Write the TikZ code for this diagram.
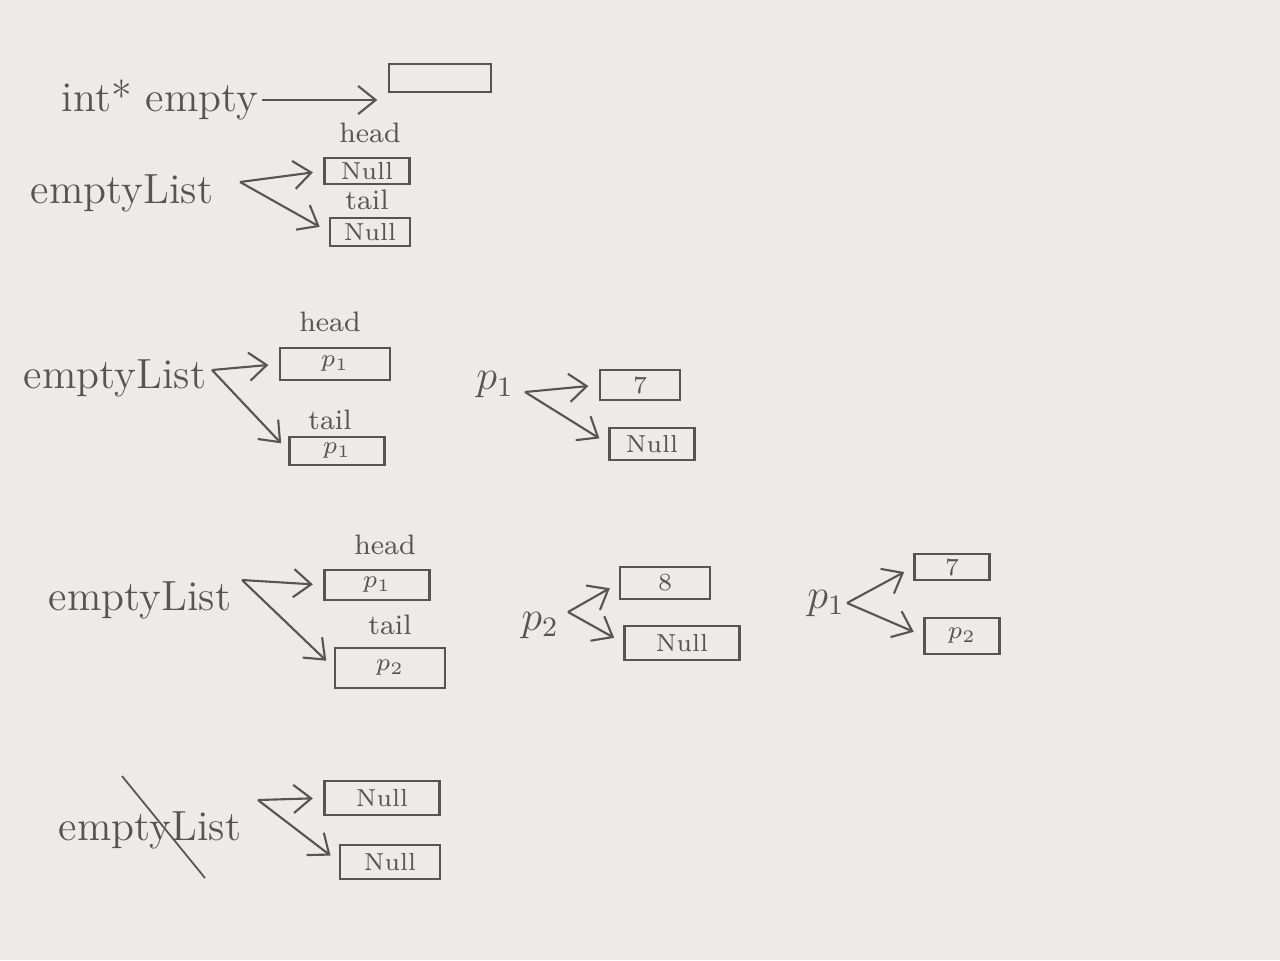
\documentclass[tikz,border=0pt]{standalone}
\usetikzlibrary{arrows.meta}

\definecolor{pencil}{RGB}{85,85,85}
\definecolor{paper}{RGB}{236,235,233}

\tikzset{
  lbl/.style={text=pencil, font=\large, inner sep=1pt},
  fieldname/.style={text=pencil, font=\footnotesize, inner sep=1pt},
  cell/.style={draw=pencil, line width=0.6pt, text=pencil, font=\scriptsize, inner sep=0pt},
  ptr/.style={draw=pencil, line width=0.6pt, -{Straight Barb[length=5pt,width=8pt]}, shorten >=3pt}
}

\begin{document}
\begin{tikzpicture}[x=0.01cm, y=-0.01cm]

    % Paper and picture size (pixel coordinates)
    \fill[paper] (0,0) rectangle (1280,960);
    \useasboundingbox (0,0) rectangle (1280,960);

    % Row 1: plain pointer
    \node[lbl] (intvar) at (160,100) {int* empty};
    \node[cell, minimum width=10.2mm, minimum height=2.8mm] (cellA) at (440,78) {};
    \draw[ptr] (intvar.east) -- (intvar.east -| cellA.west);

    % Row 2: empty list, head and tail both Null
    \node[lbl] (listB) at (122,193) {emptyList};
    \coordinate (forkB) at (240,182);
    \node[fieldname] (headB) at (370,133) {head};
    \node[cell, minimum width=8.5mm, minimum height=2.6mm] (headcellB) at (367,171) {Null};
    \node[fieldname] (tailB) at (367,200) {tail};
    \node[cell, minimum width=8.0mm, minimum height=2.8mm] (tailcellB) at (370,232) {Null};
    \draw[ptr] (forkB) -- (headcellB.west);
    \draw[ptr] (forkB) -- (tailcellB.west);

    % Row 3: one element p1
    \node[lbl] (listC) at (115,378) {emptyList};
    \coordinate (forkC) at (212,370);
    \node[fieldname] (headC) at (330,322) {head};
    \node[cell, minimum width=11.0mm, minimum height=3.2mm] (headcellC) at (335,364) {$p_1$};
    \node[fieldname] (tailC) at (330,420) {tail};
    \node[cell, minimum width=9.5mm, minimum height=2.8mm] (tailcellC) at (337,451) {$p_1$};
    \draw[ptr] (forkC) -- (headcellC.west);
    \draw[ptr] (forkC) -- (tailcellC.west);

    \node[lbl] (pC) at (495,385) {$p_1$};
    \coordinate (forkpC) at (525,392);
    \node[cell, minimum width=8.0mm, minimum height=3.0mm] (valC) at (640,385) {7};
    \node[cell, minimum width=8.5mm, minimum height=3.2mm] (nextC) at (652,444) {Null};
    \draw[ptr] (forkpC) -- (valC.west);
    \draw[ptr] (forkpC) -- (nextC.west);

    % Row 4: two elements p1 -> p2
    \node[lbl] (listD) at (140,600) {emptyList};
    \coordinate (forkD) at (242,580);
    \node[fieldname] (headD) at (385,545) {head};
    \node[cell, minimum width=10.5mm, minimum height=3.0mm] (headcellD) at (377,585) {$p_1$};
    \node[fieldname] (tailD) at (390,625) {tail};
    \node[cell, minimum width=11.0mm, minimum height=4.0mm] (tailcellD) at (390,668) {$p_2$};
    \draw[ptr] (forkD) -- (headcellD.west);
    \draw[ptr] (forkD) -- (tailcellD.west);

    \node[lbl] (pD) at (540,625) {$p_2$};
    \coordinate (forkpD) at (568,612);
    \node[cell, minimum width=9.0mm, minimum height=3.2mm] (valD) at (665,583) {8};
    \node[cell, minimum width=11.5mm, minimum height=3.4mm] (nextD) at (682,643) {Null};
    \draw[ptr] (forkpD) -- (valD.west);
    \draw[ptr] (forkpD) -- (nextD.west);

    \node[lbl] (pE) at (826,603) {$p_1$};
    \coordinate (forkpE) at (847,603);
    \node[cell, minimum width=7.5mm, minimum height=2.6mm] (valE) at (952,567) {7};
    \node[cell, minimum width=7.5mm, minimum height=3.6mm] (nextE) at (962,636) {$p_2$};
    \draw[ptr] (forkpE) -- (valE.west);
    \draw[ptr] (forkpE) -- (nextE.west);

    % Row 5: list cleared again
    \node[lbl] (listF) at (150,830) {emptyList};
    \coordinate (forkF) at (258,800);
    \node[cell, minimum width=11.5mm, minimum height=3.4mm] (headcellF) at (382,798) {Null};
    \node[cell, minimum width=10.0mm, minimum height=3.4mm] (tailcellF) at (390,862) {Null};
    \draw[ptr] (forkF) -- (headcellF.west);
    \draw[ptr] (forkF) -- (tailcellF.west);
    \draw[pencil, line width=0.5pt] (122,776) -- (205,878);

\end{tikzpicture}
\end{document}
